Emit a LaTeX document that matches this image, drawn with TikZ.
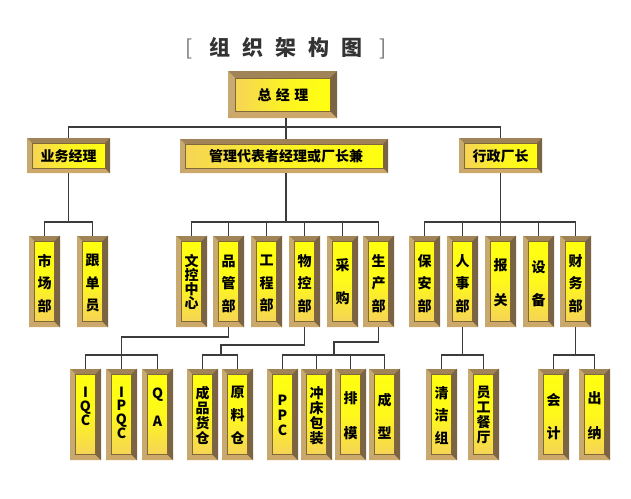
\documentclass[tikz,border=0pt]{standalone}
\usepackage{fontspec}
\newfontfamily\cjk{Noto Sans CJK SC}
\definecolor{bvtop}{HTML}{A08458}
\definecolor{bvleft}{HTML}{C8AA70}
\definecolor{bvbot}{HTML}{CCA86A}
\definecolor{bvright}{HTML}{7A6444}
\definecolor{inl}{HTML}{806838}
\definecolor{yl}{HTML}{FFFF10}
\definecolor{yd}{HTML}{F6D456}
\definecolor{lnc}{HTML}{3C3C3C}
\definecolor{ttl}{HTML}{333333}
\newcommand\tf[1]{\cjk\bfseries\fontsize{14}{#1}\selectfont}
\newcommand\bevbox[7]{%
 \pgfmathsetmacro\ax{#2+#6}\pgfmathsetmacro\ay{#3+#6}%
 \pgfmathsetmacro\bx{#4-#6}\pgfmathsetmacro\by{#5-#6}%
 \fill[bvtop] (#2,#3) rectangle (#4,#5);
 \fill[bvleft] (#2,#3) -- (\ax,\ay) -- (\ax,\by) -- (#2,#5) -- cycle;
 \fill[bvbot] (#2,#5) -- (\ax,\by) -- (\bx,\by) -- (#4,#5) -- cycle;
 \fill[bvright] (#4,#3) -- (#4,#5) -- (\bx,\by) -- (\bx,\ay) -- cycle;
 \shade[#7] (\ax,\ay) rectangle (\bx,\by);
 \draw[inl,line width=0.8pt] (\ax,\ay) rectangle (\bx,\by);
 \pgfmathsetmacro\cx{(#2+#4)/2}\pgfmathsetmacro\cy{(#3+#5)/2}%
 \pgfmathsetmacro\ww{#4-#2}\pgfmathsetmacro\hh{#5-#3}%
 \node[minimum width=\ww pt, minimum height=\hh pt, inner sep=0pt, outer sep=0pt] (#1) at (\cx,\cy) {};
}
\tikzset{
 hsh/.style={left color=yd, right color=yl, middle color=yl!70!yd},
 vsh/.style={top color=yl, bottom color=yd, middle color=yl!85!yd},
 ln/.style={draw=lnc, line width=1.5pt},
 tx/.style={align=center, inner sep=0pt, text=black},
}
\begin{document}
\begin{tikzpicture}[x=1pt,y=-1pt]
\fill[white] (0,0) rectangle (631,498);
\useasboundingbox (0,0) rectangle (631,498);
% title
\node[inner sep=0pt, text=ttl, font=\cjk\bfseries\fontsize{21}{21}\selectfont] (title) at (286,48)
 {{\mdseries\color{gray!90!black}[}\hspace{17pt}组\hspace{12pt}织\hspace{12pt}架\hspace{12pt}构\hspace{12pt}图\hspace{17pt}{\mdseries\color{gray!90!black}]}};
% level 0
\bevbox{zjl}{228}{71}{337}{118}{7}{hsh}
\node[tx, font=\tf{14}] (t-zjl) at (283,95) {总\hspace{4.5pt}经\hspace{4.5pt}理};
% level 1
\bevbox{ywjl}{27}{138}{110}{173}{5}{hsh}
\node[tx, font=\tf{14}] (t-ywjl) at (68.5,156) {业务经理};
\bevbox{gl}{180}{139}{388}{173}{5}{hsh}
\node[tx, font=\tf{14}] (t-gl) at (286,156) {管理代表者经理或厂长兼};
\bevbox{xz}{459}{138}{542}{173}{5}{hsh}
\node[tx, font=\tf{14}] (t-xz) at (500.5,156) {行政厂长};
% level 2
\bevbox{scb}{29}{235.5}{60}{327}{5.5}{vsh}
\node[tx, font=\tf{22.5}] (t-scb) at (44.5,283.5) {市\\场\\部};
\bevbox{gdy}{77}{235.5}{108}{327}{5.5}{vsh}
\node[tx, font=\tf{22.5}] (t-gdy) at (92.5,283.5) {跟\\单\\员};
\bevbox{wk}{176}{235.5}{207}{327}{5.5}{vsh}
\node[tx, font=\tf{14}] (t-wk) at (191.5,282) {文\\控\\中\\心};
\bevbox{pg}{213}{235.5}{244}{327}{5.5}{vsh}
\node[tx, font=\tf{22.5}] (t-pg) at (228.5,283.5) {品\\管\\部};
\bevbox{gc}{251}{235.5}{282}{327}{5.5}{vsh}
\node[tx, font=\tf{22.5}] (t-gc) at (266.5,283.5) {工\\程\\部};
\bevbox{wkb}{289}{235.5}{320}{327}{5.5}{vsh}
\node[tx, font=\tf{22.5}] (t-wkb) at (304.5,283.5) {物\\控\\部};
\bevbox{cg}{327}{235.5}{358}{327}{5.5}{vsh}
\node[tx, font=\tf{33}] (t-cg) at (342.5,281.5) {采\\购};
\bevbox{sc}{363}{235.5}{394}{327}{5.5}{vsh}
\node[tx, font=\tf{22.5}] (t-sc) at (378.5,283.5) {生\\产\\部};
\bevbox{ba}{409}{235.5}{440}{327}{5.5}{vsh}
\node[tx, font=\tf{22.5}] (t-ba) at (424.5,283.5) {保\\安\\部};
\bevbox{rs}{447}{235.5}{478}{327}{5.5}{vsh}
\node[tx, font=\tf{22.5}] (t-rs) at (462.5,283.5) {人\\事\\部};
\bevbox{bg}{485}{235.5}{516}{327}{5.5}{vsh}
\node[tx, font=\tf{35}] (t-bg) at (500.5,282.5) {报\\关};
\bevbox{sb}{523}{235.5}{554}{327}{5.5}{vsh}
\node[tx, font=\tf{33}] (t-sb) at (538.5,283.5) {设\\备};
\bevbox{cw}{560}{235.5}{591}{327}{5.5}{vsh}
\node[tx, font=\tf{22.5}] (t-cw) at (575.5,283.5) {财\\务\\部};
% level 3
\bevbox{iqc}{70}{368.5}{101}{460}{5.5}{vsh}
\node[tx, font=\tf{14}] (t-iqc) at (85.5,406) {I\\Q\\C};
\bevbox{ipqc}{106}{368.5}{137}{460}{5.5}{vsh}
\node[tx, font=\tf{13.7}] (t-ipqc) at (121.5,412.5) {I\\P\\Q\\C};
\bevbox{qa}{142}{368.5}{173}{460}{5.5}{vsh}
\node[tx, font=\tf{28}] (t-qa) at (157.5,407) {Q\\A};
\bevbox{cp}{187}{368.5}{218}{460}{5.5}{vsh}
\node[tx, font=\tf{15}] (t-cp) at (202.5,415.5) {成\\品\\货\\仓};
\bevbox{ylc}{222}{368.5}{253}{460}{5.5}{vsh}
\node[tx, font=\tf{23}] (t-ylc) at (237.5,415) {原\\料\\仓};
\bevbox{ppc}{267}{368.5}{298}{460}{5.5}{vsh}
\node[tx, font=\tf{15}] (t-ppc) at (282.5,415) {P\\P\\C};
\bevbox{cc}{301}{368.5}{332}{460}{5.5}{vsh}
\node[tx, font=\tf{15}] (t-cc) at (316.5,415.5) {冲\\床\\包\\装};
\bevbox{pm}{335}{368.5}{366}{460}{5.5}{vsh}
\node[tx, font=\tf{35}] (t-pm) at (350.5,415.5) {排\\模};
\bevbox{cx}{369}{368.5}{400}{460}{5.5}{vsh}
\node[tx, font=\tf{33}] (t-cx) at (384.5,416.5) {成\\型};
\bevbox{qj}{426}{368.5}{457}{460}{5.5}{vsh}
\node[tx, font=\tf{22.5}] (t-qj) at (441.5,415.5) {清\\洁\\组};
\bevbox{yg}{468}{368.5}{499}{460}{5.5}{vsh}
\node[tx, font=\tf{15}] (t-yg) at (483.5,414.5) {员\\工\\餐\\厅};
\bevbox{kj}{538}{368.5}{569}{460}{5.5}{vsh}
\node[tx, font=\tf{33}] (t-kj) at (553.5,416.5) {会\\计};
\bevbox{cn}{579}{368.5}{610}{460}{5.5}{vsh}
\node[tx, font=\tf{35}] (t-cn) at (594.5,415.5) {出\\纳};
% connectors level 0 -> 1
\coordinate (b0) at (286,127);
\draw[ln] ([xshift=3.5pt]zjl.south) -- (b0);
\draw[ln] (b0) -| (ywjl.north);
\draw[ln] (b0) -| (xz.north);
\draw[ln] (b0) -- ([xshift=2pt]gl.north);
% level 1 -> 2
\coordinate (b1) at (68.5,222);
\draw[ln] (ywjl.south) -- (b1);
\draw[ln] (b1) -| (scb.north);
\draw[ln] (b1) -| (gdy.north);
\coordinate (b2) at (286,222);
\draw[ln] ([xshift=2pt]gl.south) -- (b2);
\foreach \n in {wk,pg,gc,wkb,cg,sc} {\draw[ln] (b2) -| (\n.north);}
\coordinate (b3) at (500.5,222);
\draw[ln] (xz.south) -- (b3);
\foreach \n in {ba,rs,bg,sb,cw} {\draw[ln] (b3) -| (\n.north);}
% level 2 -> 3
\coordinate (c1) at (228.5,337);
\coordinate (c1b) at (121.5,355);
\draw[ln] (pg.south) -- (c1) -| (c1b);
\draw[ln] (c1b) -- (ipqc.north);
\draw[ln] (c1b) -| (iqc.north);
\draw[ln] (c1b) -| (qa.north);
\coordinate (c2) at (304.5,345);
\coordinate (c2b) at (221,355);
\draw[ln] (wkb.south) -- (c2) -| (c2b);
\draw[ln] (c2b) -| (cp.north);
\draw[ln] (c2b) -| (ylc.north);
\coordinate (c3) at (378.5,342);
\coordinate (c3b) at (334,355);
\draw[ln] (sc.south) -- (c3) -| (c3b);
\foreach \n in {ppc,cc,pm,cx} {\draw[ln] (c3b) -| (\n.north);}
\coordinate (c4) at (462.5,355);
\draw[ln] (rs.south) -- (c4);
\draw[ln] (c4) -| (qj.north);
\draw[ln] (c4) -| (yg.north);
\coordinate (c5) at (575.5,355);
\draw[ln] (cw.south) -- (c5);
\draw[ln] (c5) -| (kj.north);
\draw[ln] (c5) -| (cn.north);
\end{tikzpicture}
\end{document}
